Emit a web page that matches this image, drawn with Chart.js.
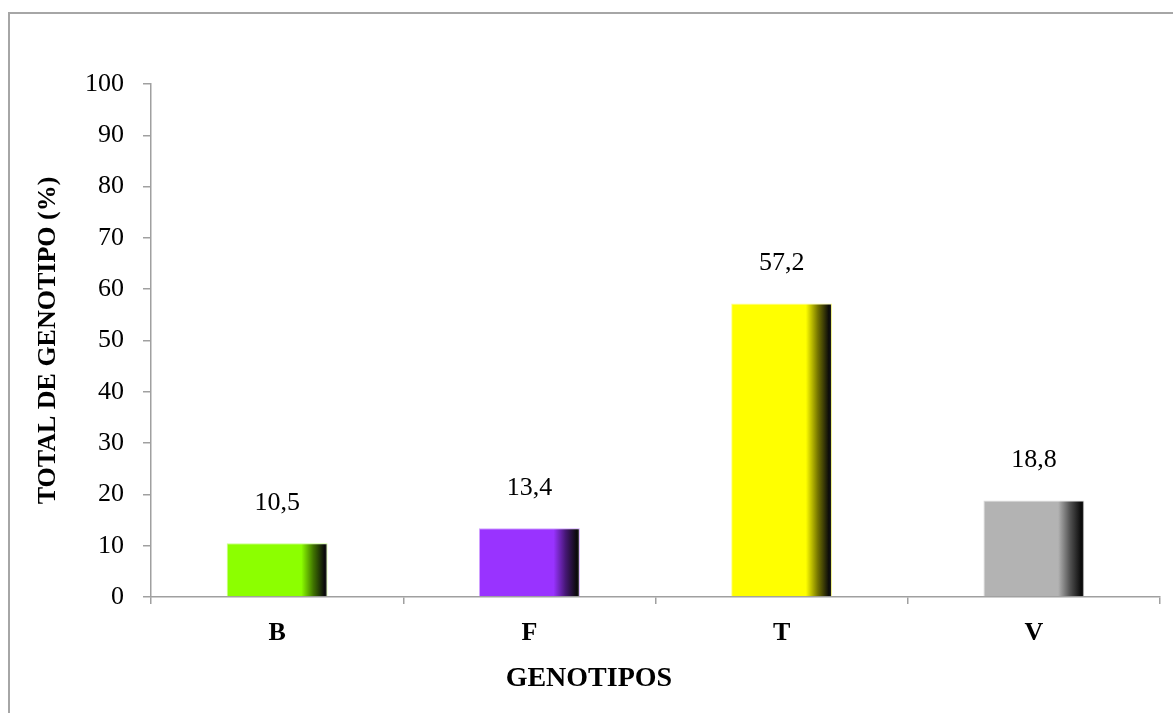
<!DOCTYPE html>
<html>
<head>
<meta charset="utf-8">
<script src="https://cdn.jsdelivr.net/npm/chart.js@4.4.1/dist/chart.umd.min.js"></script>
<style>
  html, body { margin: 0; padding: 0; background: #fff; overflow: hidden; }
  #wrap { position: relative; width: 1173px; height: 713px; }
  #frame { position: absolute; left: 8px; top: 12px; width: 1300px; height: 900px;
           border-left: 2px solid #a6a6a6; border-top: 2px solid #a6a6a6; box-sizing: border-box; }
  canvas { position: absolute; left: 0; top: 0; }
</style>
</head>
<body>
<div id="wrap">
  <div id="frame"></div>
  <canvas id="c" width="1173" height="713"></canvas>
</div>
<script>
// Genotype shares (%)
const genotipos = ['B', 'F', 'T', 'V'];
const totalPct = [10.5, 13.4, 57.2, 18.8];
const barColors = ['#8CFF00', '#9933FF', '#FFFF00', '#B3B3B3'];
const yTicks = [0, 10, 20, 30, 40, 50, 60, 70, 80, 90, 100];
const xTitle = 'GENOTIPOS';

const SERIF = '"Liberation Serif", "Times New Roman", serif';

function shade(hex, f) {
  const n = parseInt(hex.slice(1), 16);
  const r = Math.round(((n >> 16) & 255) * f);
  const g = Math.round(((n >> 8) & 255) * f);
  const b = Math.round((n & 255) * f);
  return `rgb(${r},${g},${b})`;
}
function tint(hex, f) {
  const n = parseInt(hex.slice(1), 16);
  const c = [(n >> 16) & 255, (n >> 8) & 255, n & 255].map(v => Math.round(v + (255 - v) * f));
  return `rgb(${c[0]},${c[1]},${c[2]})`;
}

// Horizontal shading: flat colour, then a dark fade towards the right edge
function barFill(ctx) {
  const chart = ctx.chart;
  const xs = chart.scales.x;
  const base = barColors[ctx.dataIndex];
  if (!xs || !chart.chartArea) return base;
  const cw = xs.width / genotipos.length;
  const cx = xs.getPixelForValue(ctx.dataIndex);
  const w = cw * 0.4;
  const g = chart.ctx.createLinearGradient(cx - w / 2, 0, cx + w / 2, 0);
  g.addColorStop(0, base);
  g.addColorStop(0.74, base);
  g.addColorStop(0.86, shade(base, 0.45));
  g.addColorStop(0.97, '#0a0a0a');
  g.addColorStop(1, '#2a2a2a');
  return g;
}

// Value labels above each bar, decimal comma
const valueLabels = {
  id: 'valueLabels',
  afterDatasetsDraw(chart) {
    const { ctx } = chart;
    const meta = chart.getDatasetMeta(0);
    ctx.save();
    ctx.font = `26px ${SERIF}`;
    ctx.fillStyle = '#000';
    ctx.textAlign = 'center';
    ctx.textBaseline = 'middle';
    meta.data.forEach((bar, i) => {
      const txt = totalPct[i].toFixed(1).replace('.', ',');
      ctx.fillText(txt, bar.x, bar.y - 40);
    });
    ctx.restore();
  }
};

// Category axis title, set a little left of the plot centre
const xAxisTitle = {
  id: 'xAxisTitle',
  afterDraw(chart) {
    const { ctx, chartArea } = chart;
    ctx.save();
    ctx.font = `bold 28px ${SERIF}`;
    ctx.fillStyle = '#000';
    ctx.textAlign = 'center';
    ctx.textBaseline = 'middle';
    const x = chartArea.left + (chartArea.right - chartArea.left) * 0.434;
    ctx.fillText(xTitle, x, chartArea.bottom + 82);
    ctx.restore();
  }
};

new Chart(document.getElementById('c'), {
  type: 'bar',
  data: {
    labels: genotipos,
    datasets: [{
      data: totalPct,
      backgroundColor: barFill,
      borderColor: barColors.map(c => tint(c, 0.55)),
      borderWidth: 1,
      categoryPercentage: 1,
      barPercentage: 0.4
    }]
  },
  options: {
    responsive: false,
    animation: false,
    layout: { padding: { left: 0, top: 84, right: 13, bottom: 0 } },
    plugins: { legend: { display: false }, tooltip: { enabled: false } },
    scales: {
      x: {
        grid: { display: true, drawOnChartArea: false, drawTicks: true, tickLength: 7, color: '#a0a0a0', lineWidth: 1.5, offset: true },
        border: { display: true, color: '#a0a0a0', width: 1.5 },
        ticks: { color: '#000', font: { family: SERIF, size: 26, weight: 'bold' }, padding: 14 },
        title: { display: false },
        afterFit(scale) { scale.height = 116; }
      },
      y: {
        min: 0, max: 100,
        afterBuildTicks(scale) { scale.ticks = yTicks.map(v => ({ value: v })); },
        grid: { display: true, drawOnChartArea: false, drawTicks: true, tickLength: 8, color: '#a0a0a0', lineWidth: 1.5 },
        border: { display: true, color: '#a0a0a0', width: 1.5 },
        ticks: { color: '#000', font: { family: SERIF, size: 26 }, padding: 19 },
        title: { display: true, text: 'TOTAL DE GENOTIPO (%)', color: '#000', font: { family: SERIF, size: 26, weight: 'bold' }, padding: { top: 33, bottom: 0 } },
        afterFit(scale) { scale.width = 151; }
      }
    }
  },
  plugins: [valueLabels, xAxisTitle]
});
</script>
</body>
</html>
